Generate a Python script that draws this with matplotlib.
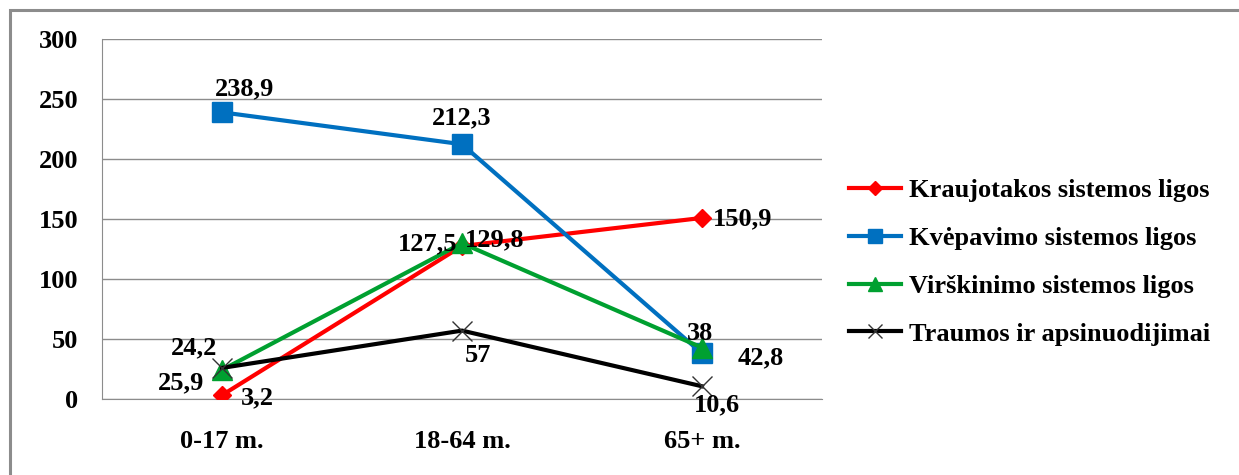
import matplotlib.pyplot as plt
from matplotlib.patches import Rectangle

plt.rcParams['font.family'] = ['Liberation Serif', 'DejaVu Serif']
plt.rcParams['font.weight'] = 'bold'

groups = ["0-17 m.", "18-64 m.", "65+ m."]
kraujotakos = [3.2, 127.5, 150.9]
kvepavimo = [238.9, 212.3, 38]
virskinimo = [24.2, 129.8, 42.8]
traumos = [25.9, 57, 10.6]

names = ["Kraujotakos sistemos ligos", "Kvėpavimo sistemos ligos",
         "Virškinimo sistemos ligos", "Traumos ir apsinuodijimai"]
yticks = [0, 50, 100, 150, 200, 250, 300]

fs = 19

fig = plt.figure(figsize=(12.39, 4.75), dpi=100)
# outer chart frame
fig.patches.append(Rectangle((10 / 1239, -0.1), 1.2, 1 - 10 / 475 + 0.1,
                             transform=fig.transFigure, fill=False,
                             edgecolor='#8c8c8c', linewidth=2.2))
ax = fig.add_axes([102 / 1239, 1 - 399 / 475, 720 / 1239, 360 / 475])

x = range(len(groups))
ax.plot(x, kraujotakos, color='#ff0000', lw=3, marker='D', ms=9,
        label=names[0], zorder=3)
ax.plot(x, kvepavimo, color='#0070c0', lw=3, marker='s', ms=14,
        label=names[1], zorder=3)
ax.plot(x, virskinimo, color='#00a030', lw=3, marker='^', ms=14,
        label=names[2], zorder=4)
ax.plot(x, traumos, color='black', lw=3, marker='x', ms=14, mew=1,
        mec='#333333', label=names[3], zorder=5)

# data labels, offsets in pixels from each point
labels = [
    (0, kraujotakos[0], 35, -3), (1, kraujotakos[1], -34, 2), (2, kraujotakos[2], 41, -1),
    (0, kvepavimo[0], 23, 24), (1, kvepavimo[1], 0, 26), (2, kvepavimo[2], -2, 20),
    (0, virskinimo[0], -28, 22), (1, virskinimo[1], 33, 3), (2, virskinimo[2], 59, -10),
    (0, traumos[0], -41, -15), (1, traumos[1], 16, -25), (2, traumos[2], 15, -19),
]
for xi, v, dx, dy in labels:
    txt = ("%g" % v).replace('.', ',')
    ax.annotate(txt, (xi, v), xytext=(dx, dy), textcoords='offset pixels',
                ha='center', va='center', fontsize=fs, fontweight='bold',
                zorder=6)

ax.set_xlim(-0.5, 2.5)
ax.set_ylim(0, 300)
ax.set_yticks(yticks)
ax.set_xticks(list(x))
ax.set_xticklabels(groups)
ax.tick_params(axis='y', length=0, pad=17, labelsize=fs)
ax.tick_params(axis='x', length=0, pad=22, labelsize=fs)
ax.grid(axis='y', color='#8c8c8c', lw=1)
ax.set_axisbelow(True)
for s in ['top', 'right']:
    ax.spines[s].set_visible(False)
ax.spines['left'].set_color('#8c8c8c')
ax.spines['bottom'].set_color('#8c8c8c')

ax.legend(loc='center left', bbox_to_anchor=(1.005, 0.38), frameon=False,
          fontsize=fs, handlelength=1.97, handletextpad=0.3, labelspacing=0.92,
          markerscale=0.75)

fig.savefig('out.png', dpi=100)
